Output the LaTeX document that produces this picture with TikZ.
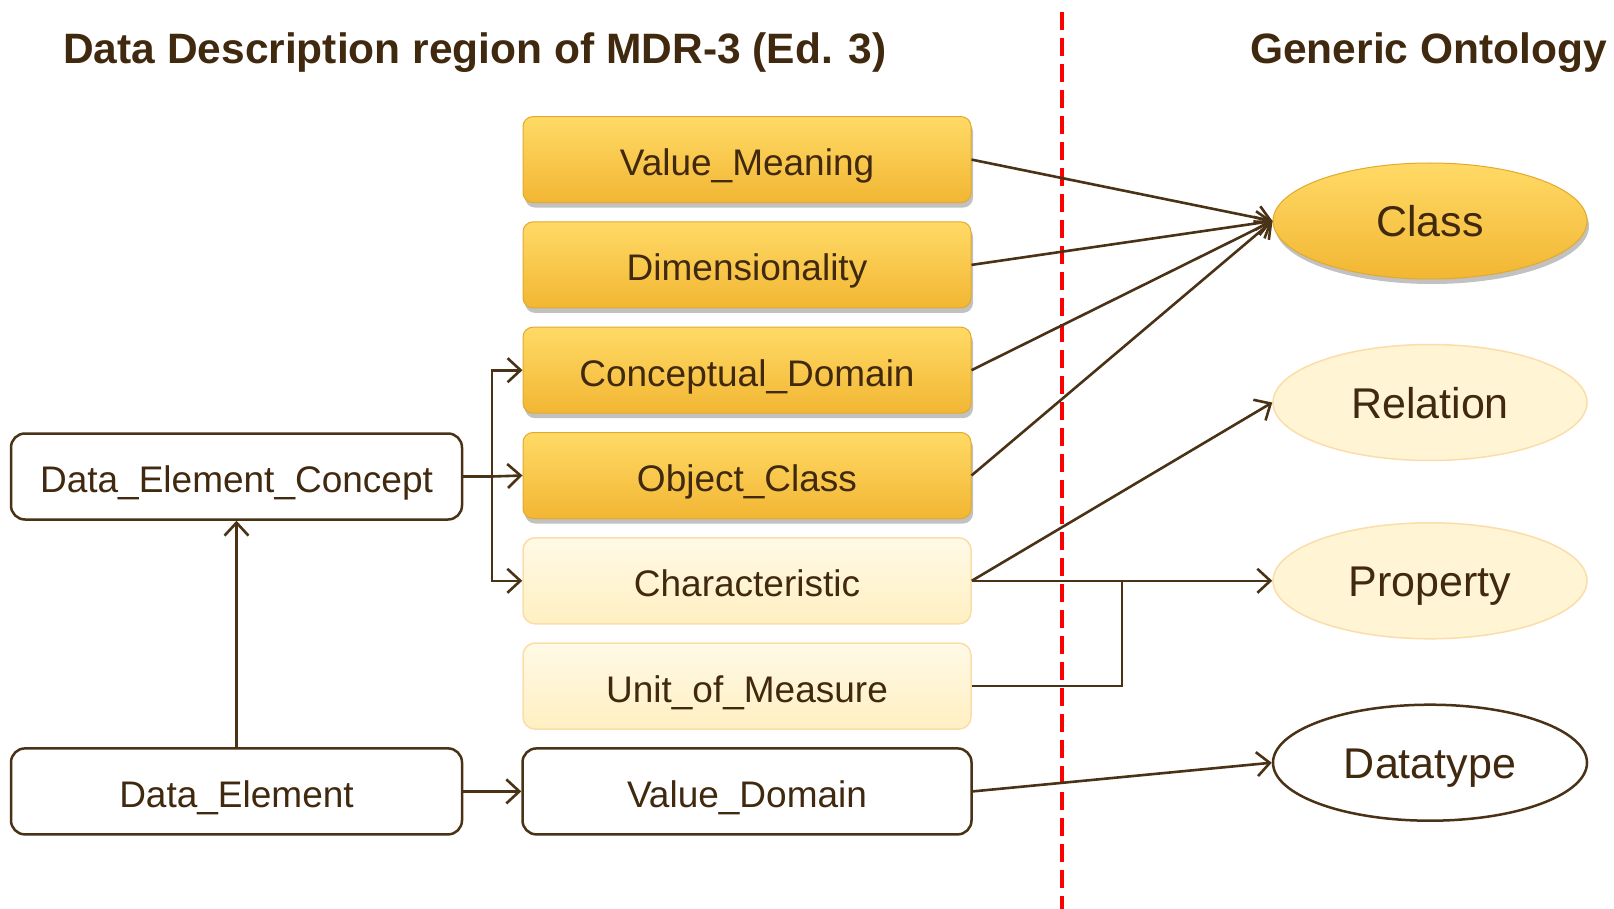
\documentclass[tikz,border=0pt]{standalone}
\usepackage{fontspec}
\setmainfont{Liberation Sans}
\usetikzlibrary{shapes.geometric,arrows.meta,shadows,fadings}
\definecolor{ink}{HTML}{40290F}
\definecolor{ln}{HTML}{4A3216}
\definecolor{goldtop}{HTML}{FFDA66}
\definecolor{goldbot}{HTML}{F2B633}
\definecolor{goldedge}{HTML}{E3A92A}
\definecolor{paletop}{HTML}{FFF9E6}
\definecolor{palebot}{HTML}{FFF0C2}
\definecolor{paleedge}{HTML}{FBDDAA}
\definecolor{sepred}{HTML}{FF0000}
\tikzset{
  gshadow/.style={drop shadow={shadow xshift=2pt, shadow yshift=-5pt, opacity=0.35, fill=black!70}},
  btxt/.style={font=\fontsize{37}{40}\selectfont, text=ink, text height=32pt, text depth=0pt},
  etxt/.style={font=\fontsize{43}{46}\selectfont, text=ink, text height=31pt, text depth=0pt},
  gbox/.style={rectangle, rounded corners=10pt, minimum width=448pt, minimum height=86pt,
    top color=goldtop, bottom color=goldbot, draw=goldedge, line width=1pt, gshadow, btxt},
  pbox/.style={rectangle, rounded corners=12pt, minimum width=448pt, minimum height=86pt,
    top color=paletop, bottom color=palebot, draw=paleedge, line width=1.5pt, btxt},
  wbox/.style={rectangle, rounded corners=14pt, minimum width=449pt, minimum height=86pt,
    fill=white, draw=ln, line width=2.5pt, btxt},
  gell/.style={ellipse, minimum width=314pt, minimum height=116pt, inner sep=0pt,
    top color=goldtop, bottom color=goldbot, draw=goldedge, line width=1pt, gshadow, etxt},
  pell/.style={ellipse, minimum width=314pt, minimum height=116pt, inner sep=0pt,
    fill=palebot!70!white, draw=paleedge, line width=1.5pt, etxt},
  well/.style={ellipse, minimum width=314pt, minimum height=116pt, inner sep=0pt,
    fill=white, draw=ln, line width=2.5pt, etxt},
  ttl/.style={font=\bfseries\fontsize{42.5}{46}\selectfont, text=ink, inner sep=0pt},
  arr/.style={draw=ln, line width=2.6pt, -{Straight Barb[length=13pt,width=24pt]}},
  ln/.style={draw=ln, line width=2.6pt},
}
\begin{document}
\begin{tikzpicture}[x=1pt,y=-1pt]
\useasboundingbox (0,0) rectangle (1614,909);
% separator
\draw[sepred, line width=4.5pt, dash pattern=on 18pt off 8pt] (1062,12) -- (1062,909);
% titles
\node[ttl, anchor=base west] (t1) at (63,64) {Data Description region of MDR-3 (Ed. 3)};
\node[ttl, anchor=base east] (t2) at (1607,64) {Generic Ontology};
% middle column
\node[gbox] (vm) at (747,159.6) {Value\_Meaning};
\node[gbox] (dim) at (747,264.9) {Dimensionality};
\node[gbox] (cd) at (747,370.2) {Conceptual\_Domain};
\node[gbox] (oc) at (747,475.5) {Object\_Class};
\node[pbox] (ch) at (747,580.8) {Characteristic};
\node[pbox] (uom) at (747,686.1) {Unit\_of\_Measure};
\node[wbox] (vd) at (747,791.4) {Value\_Domain};
% left column
\node[wbox, minimum width=451pt] (dec) at (236.5,476.5) {Data\_Element\_Concept};
\node[wbox, minimum width=451pt] (de) at (236.5,791.4) {Data\_Element};
% right column
\node[gell] (cls) at (1430,221) {Class};
\node[pell] (rel) at (1430,402.5) {Relation};
\node[pell] (prop) at (1430,580.8) {Property};
\node[well] (dt) at (1430,762.7) {Datatype};
% connectors
\coordinate (br) at (492,476.5);
\draw[ln] (dec.east) -- (br);
\draw[arr] (br) -- (oc.west);
\draw[arr] (br) |- (cd.west);
\draw[arr] (br) |- (ch.west);
\draw[arr] (de.north) -- (dec.south);
\draw[arr] (de.east) -- (vd.west);
\draw[arr] (vm.east) -- (cls.west);
\draw[arr] (dim.east) -- (cls.west);
\draw[arr] (cd.east) -- (cls.west);
\draw[arr] (oc.east) -- (cls.west);
\draw[arr] (ch.east) -- (rel.west);
\draw[arr] (ch.east) -- (prop.west);
\coordinate (jn) at (1122,580.8);
\draw[ln] (uom.east) -| (jn);
\draw[arr] (vd.east) -- (dt.west);
\end{tikzpicture}
\end{document}
